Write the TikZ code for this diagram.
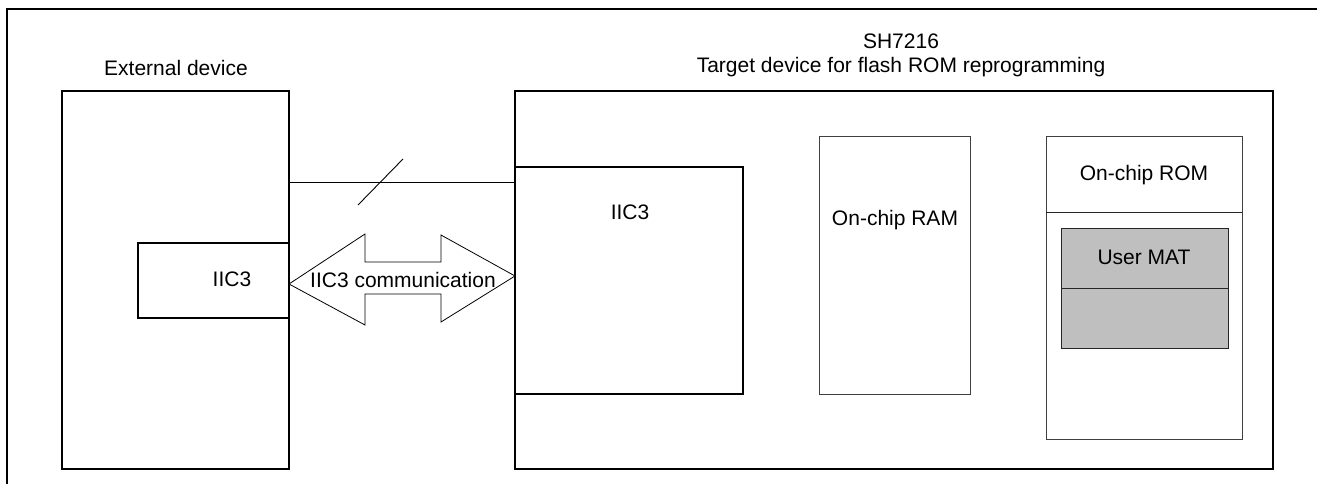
\documentclass[tikz,border=0pt]{standalone}
\usepackage{fontspec}
\setmainfont{Liberation Sans}
\begin{document}
\begin{tikzpicture}[x=1pt,y=-1pt,
  every node/.style={inner sep=0pt, outer sep=0pt, font=\fontsize{21}{25}\selectfont},
  heavybox/.style={draw, line width=2.4pt, anchor=north west},
  portbox/.style={draw, line width=1.3pt, anchor=north west},
  memblock/.style={draw=black!75, line width=1pt, anchor=north west},
  matblock/.style={draw=black!85, line width=1pt, fill=black!25, anchor=north west},
  thinline/.style={line width=0.9pt},
  bigarrow/.style={draw, line width=0.8pt, fill=white, line join=miter}
]
\useasboundingbox (0,0) rectangle (1317,484);

% outer frame (top and left edges)
\draw[line width=2pt] (1317,9) -- (7,9) -- (7,484);

% external device
\node (extlbl) at (176,68) {External device};
\node[heavybox, minimum width=227pt, minimum height=378pt] (ext) at (62,91) {};
\node[portbox, minimum width=151pt, minimum height=75pt] (extiic) at (138,243) {};
\node (extiiclbl) at (232,279) {IIC3};

% target device
\node (tgttitle) at (901,41) {SH7216};
\node (tgtlbl) at (901,67) {Target device for flash ROM reprogramming};
\node[heavybox, minimum width=758pt, minimum height=378pt] (tgt) at (515,91) {};
\node[portbox, minimum width=228pt, minimum height=227pt] (tgtiic) at (515,167) {};
\node (tgtiiclbl) at (630,212) {IIC3};

% on-chip RAM
\node[memblock, minimum width=151pt, minimum height=257pt] (ram) at (819,137) {};
\node (ramlbl) at (895,220) {On-chip RAM};

% on-chip ROM with the user MAT inside
\node[memblock, minimum width=196pt, minimum height=302pt] (rom) at (1046,137) {};
\draw[black!85, line width=1pt] (rom.west |- 0,212) coordinate (romdivl) -- (rom.east |- 0,212) coordinate (romdivr);
\node (romlbl) at (1144,175) {On-chip ROM};
\node[matblock, minimum width=167pt, minimum height=120pt] (mat) at (1061,228) {};
\draw[black!85, line width=1pt] (mat.west |- 0,288) coordinate (matdivl) -- (mat.east |- 0,288) coordinate (matdivr);
\node (matlbl) at (1144,257) {User MAT};

% bus line with slash
\coordinate (busl) at (ext.east |- 0,182);
\coordinate (busr) at (tgt.west |- 0,182);
\draw[thinline] (busl) -- (busr);
\coordinate (slasha) at (358,205);
\coordinate (slashb) at (403,159);
\draw[thinline] (slasha) -- (slashb);

% double block arrow for the IIC3 link
\coordinate (tipl) at (ext.east |- 0,284);
\coordinate (tipr) at (tgt.west |- 0,276);
\draw[bigarrow] (tipl) -- (365,234) -- (365,262) -- (441,262) -- (441,235)
  -- (tipr) -- (441,322) -- (441,294) -- (365,294) -- (365,325) -- cycle;
\node (commlbl) at (403,280) {IIC3 communication};
\end{tikzpicture}
\end{document}
